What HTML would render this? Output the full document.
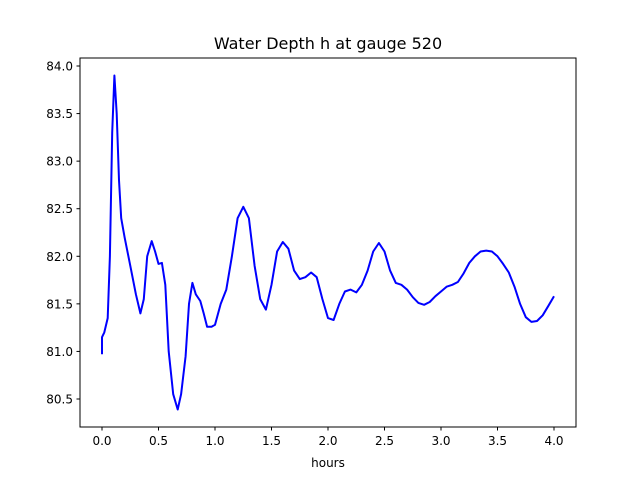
<!DOCTYPE html>
<html><head><meta charset="utf-8"><style>
body{margin:0;background:#fff;}
svg{display:block;font-family:"DejaVu Sans","Liberation Sans",sans-serif;}
</style></head><body>
<svg id="chart" width="640" height="480" viewBox="0 0 640 480">
<rect width="640" height="480" fill="#fff"/>
<text x="328" y="49" text-anchor="middle" font-size="16" fill="#000">Water Depth h at gauge 520</text>
<g id="xt"></g>
<g id="yt"></g>
<polyline id="line" fill="none" stroke="#0000ff" stroke-width="2" stroke-linejoin="round"/>
<rect x="80" y="58" width="496" height="369" fill="none" stroke="#000" stroke-width="1"/>
<text x="328" y="467" text-anchor="middle" font-size="12">hours</text>
</svg>
<script>
const hours=[0,0,0.02,0.05,0.07,0.09,0.11,0.13,0.15,0.17,0.2,0.25,0.3,0.34,0.37,0.4,0.44,0.47,0.5,0.53,0.56,0.59,0.63,0.67,0.7,0.74,0.77,0.8,0.83,0.87,0.9,0.93,0.97,1.0,1.05,1.1,1.15,1.2,1.25,1.3,1.35,1.4,1.45,1.5,1.55,1.6,1.65,1.7,1.75,1.8,1.85,1.9,1.95,2.0,2.05,2.1,2.15,2.2,2.25,2.3,2.35,2.4,2.45,2.5,2.55,2.6,2.65,2.7,2.75,2.8,2.85,2.9,2.95,3.0,3.05,3.1,3.15,3.2,3.25,3.3,3.35,3.4,3.45,3.5,3.55,3.6,3.65,3.7,3.75,3.8,3.85,3.9,3.95,4.0];
const depth=[80.97,81.15,81.2,81.35,82.0,83.3,83.9,83.5,82.8,82.4,82.2,81.9,81.6,81.4,81.55,82.0,82.16,82.05,81.92,81.93,81.7,81.0,80.55,80.39,80.55,80.95,81.5,81.72,81.6,81.53,81.4,81.26,81.26,81.28,81.5,81.65,82.0,82.4,82.52,82.4,81.9,81.55,81.44,81.7,82.05,82.15,82.08,81.85,81.76,81.78,81.83,81.78,81.55,81.35,81.33,81.5,81.63,81.65,81.62,81.7,81.85,82.05,82.14,82.05,81.85,81.72,81.7,81.65,81.57,81.51,81.49,81.52,81.58,81.63,81.68,81.7,81.73,81.82,81.93,82.0,82.05,82.06,82.05,82.0,81.92,81.83,81.68,81.5,81.36,81.31,81.32,81.38,81.48,81.58];
const xTicks=[0,0.5,1,1.5,2,2.5,3,3.5,4];
const yTicks=[80.5,81,81.5,82,82.5,83,83.5,84];
const xs=v=>102+v*113;
const ys=v=>399-(v-80.5)*(333/3.5);
const ns="http://www.w3.org/2000/svg";
const xt=document.getElementById('xt'),yt=document.getElementById('yt');
xTicks.forEach(t=>{
 const l=document.createElementNS(ns,'line');
 
 
 l.setAttribute('x1',xs(t));l.setAttribute('x2',xs(t));l.setAttribute('y1',427);l.setAttribute('y2',430.5);l.setAttribute('stroke','#000');
 xt.appendChild(l);
 const tx=document.createElementNS(ns,'text');
 
 
 tx.setAttribute('x',xs(t));tx.setAttribute('y',445);tx.setAttribute('text-anchor','middle');tx.setAttribute('font-size','12');
 tx.textContent=t.toFixed(1);xt.appendChild(tx);
});
yTicks.forEach(t=>{
 const l=document.createElementNS(ns,'line');
 
 
 l.setAttribute('x1',76.5);l.setAttribute('x2',80);l.setAttribute('y1',ys(t));l.setAttribute('y2',ys(t));l.setAttribute('stroke','#000');
 yt.appendChild(l);
 const tx=document.createElementNS(ns,'text');
 
 
 tx.setAttribute('x',73);tx.setAttribute('y',ys(t)+4.5);tx.setAttribute('text-anchor','end');tx.setAttribute('font-size','12');
 tx.textContent=t.toFixed(1);yt.appendChild(tx);
});
document.getElementById('line').setAttribute('points',hours.map((h,i)=>xs(h).toFixed(1)+','+ys(depth[i]).toFixed(1)).join(' '));
</script>
</body></html>
